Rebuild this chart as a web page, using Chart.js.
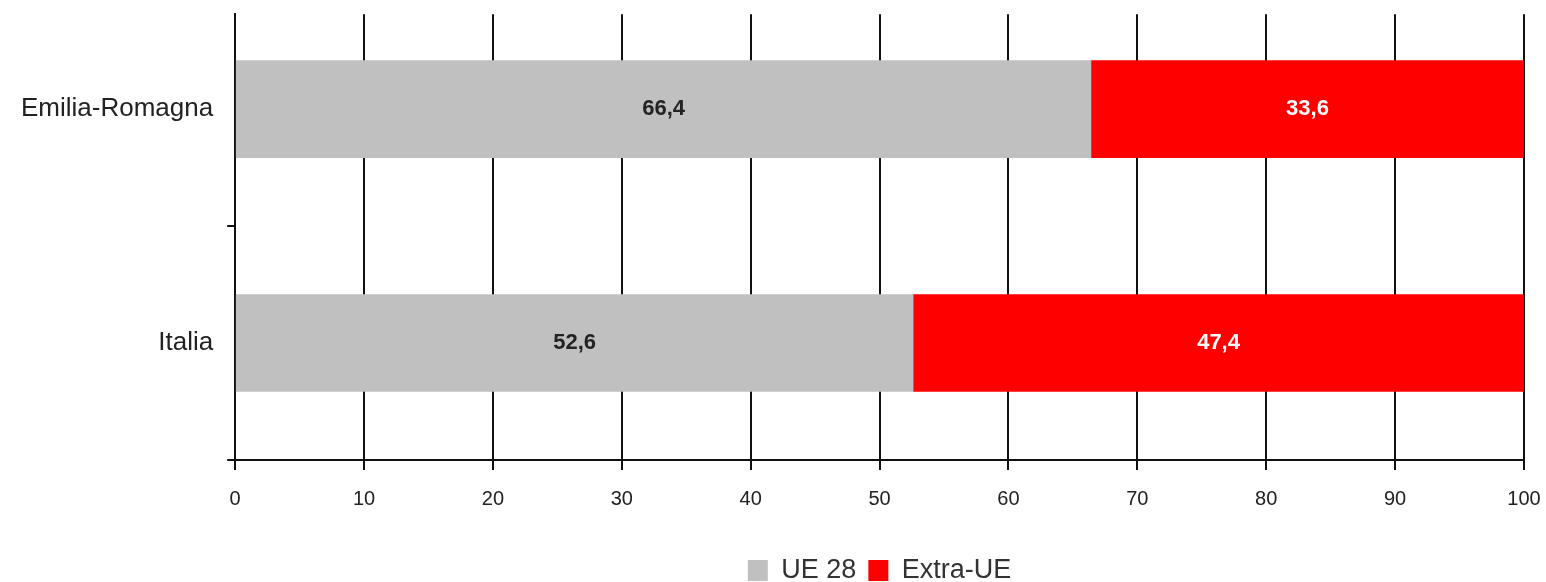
<!DOCTYPE html>
<html lang="it">
<head>
    <meta charset="UTF-8">
    <title>UE 28 / Extra-UE</title>
    <script src="https://cdn.jsdelivr.net/npm/chart.js"></script>
    <style>
        html, body { margin: 0; padding: 0; background: #ffffff; }
        #wrap { width: 1546px; height: 582px; }
    </style>
</head>
<body>
    <div id="wrap"><canvas id="shareChart"></canvas></div>

    <script>
        const categories = ['Emilia-Romagna', 'Italia'];
        const seriesNames = ['UE 28', 'Extra-UE'];
        const ueValues = [66.4, 52.6];
        const extraValues = [33.6, 47.4];
        const xTicks = [0, 10, 20, 30, 40, 50, 60, 70, 80, 90, 100];

        const fontFamily = '"Liberation Sans", Arial, sans-serif';

        // draws the value inside each bar segment
        const barValues = {
            id: 'barValues',
            afterDatasetsDraw(chart) {
                const ctx = chart.ctx;
                ctx.save();
                ctx.font = 'bold 22px ' + fontFamily;
                ctx.textAlign = 'center';
                ctx.textBaseline = 'middle';
                chart.data.datasets.forEach((ds, di) => {
                    const meta = chart.getDatasetMeta(di);
                    meta.data.forEach((bar, i) => {
                        const v = ds.data[i].x;
                        const cx = (bar.x + bar.base) / 2;
                        ctx.fillStyle = ds.labelColor;
                        ctx.fillText(v.toFixed(1).replace('.', ','), cx, bar.y);
                    });
                });
                ctx.restore();
            }
        };

        function points(values) {
            return values.map((v, i) => ({ x: v, y: i }));
        }

        const ctx = document.getElementById('shareChart').getContext('2d');
        const shareChart = new Chart(ctx, {
            type: 'bar',
            data: {
                datasets: [
                    {
                        label: seriesNames[0],
                        data: points(ueValues),
                        backgroundColor: '#c0c0c0',
                        labelColor: '#222222',
                        barThickness: 97
                    },
                    {
                        label: seriesNames[1],
                        data: points(extraValues),
                        backgroundColor: '#ff0000',
                        labelColor: '#ffffff',
                        barThickness: 97
                    }
                ]
            },
            options: {
                indexAxis: 'y',
                responsive: true,
                maintainAspectRatio: false,
                animation: false,
                layout: { padding: { top: 13, right: 22, left: 7, bottom: -12 } },
                plugins: {
                    legend: {
                        position: 'bottom',
                        fullSize: false,
                        title: {
                            display: true,
                            text: ' ',
                            font: { size: 10, lineHeight: 1 },
                            padding: { top: 7, bottom: 0 }
                        },
                        labels: {
                            color: '#333333',
                            font: { family: fontFamily, size: 27 },
                            boxWidth: 20,
                            boxHeight: 21,
                            padding: 12
                        }
                    },
                    tooltip: { enabled: false }
                },
                scales: {
                    x: {
                        type: 'linear',
                        stacked: true,
                        min: 0,
                        max: 100,
                        afterBuildTicks: (scale) => { scale.ticks = xTicks.map(v => ({ value: v })); },
                        grid: { color: '#111111', lineWidth: 2, tickLength: 10 },
                        border: { color: '#111111', width: 2 },
                        ticks: {
                            color: '#222222',
                            font: { family: fontFamily, size: 20, lineHeight: 2.6 },
                            padding: 3,
                            maxRotation: 0
                        }
                    },
                    y: {
                        type: 'linear',
                        stacked: true,
                        reverse: true,
                        offset: false,
                        min: -0.406,
                        max: 1.5,
                        afterBuildTicks: (scale) => { scale.ticks = categories.map((c, i) => ({ value: i })); },
                        grid: { offset: true, drawOnChartArea: false, color: '#111111', lineWidth: 2, tickLength: 8 },
                        border: { color: '#111111', width: 2 },
                        ticks: {
                            color: '#222222',
                            font: { family: fontFamily, size: 26, lineHeight: 0.01 },
                            padding: 14,
                            callback: (v) => categories[v] ?? ''
                        }
                    }
                }
            },
            plugins: [barValues]
        });
    </script>
</body>
</html>
